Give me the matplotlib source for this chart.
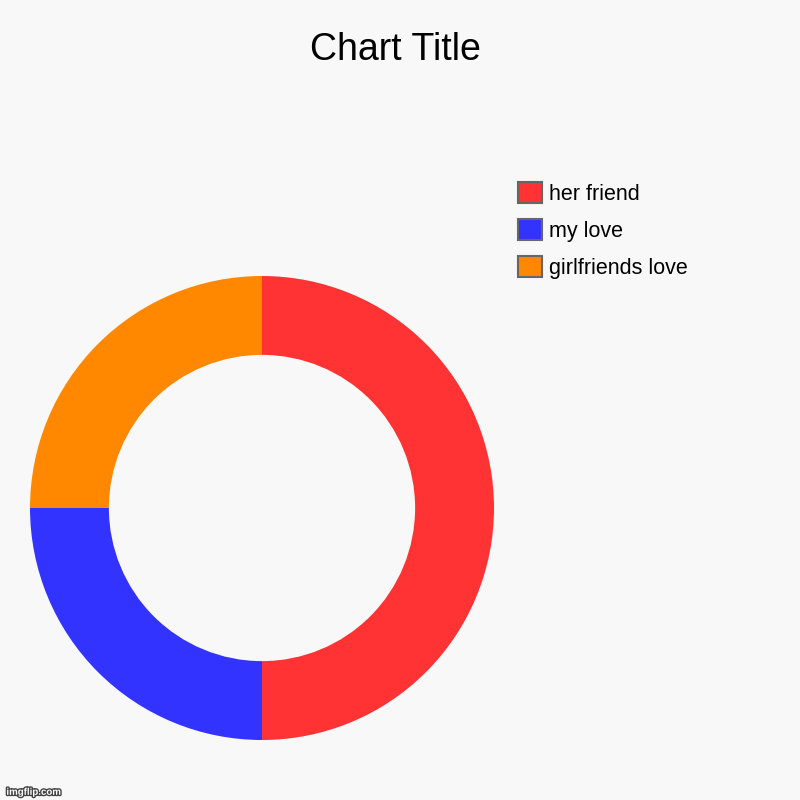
import matplotlib.pyplot as plt
import matplotlib.patheffects as pe

plt.rcParams['font.family'] = ['Liberation Sans', 'DejaVu Sans']

labels = ['her friend', 'my love', 'girlfriends love']
values = [50, 25, 25]
colors = ['#ff3333', '#3333ff', '#ff8800']

fig = plt.figure(figsize=(8, 8), dpi=100, facecolor='#f8f8f8')

# donut: outer radius 232px, centre at (262, 508)
ax = fig.add_axes([30/800, 60/800, 464/800, 464/800])
ax.set_facecolor('#f8f8f8')
wedges, _ = ax.pie(values, colors=colors, startangle=90, counterclock=False,
                   radius=1, wedgeprops=dict(width=0.34, linewidth=0))
ax.set_xlim(-1, 1)
ax.set_ylim(-1, 1)
ax.set_aspect('equal')
ax.axis('off')

fig.text(0.494, 1 - 50/800, 'Chart Title', ha='center', va='center',
         fontsize=27, color='#000000')

handles = [plt.Rectangle((0, 0), 1, 1, facecolor=c, edgecolor='#666666', linewidth=1.5)
           for c in colors]
leg = fig.legend(handles, labels, loc='upper left',
                 bbox_to_anchor=(518/800, 1 - 182/800), frameon=False,
                 fontsize=15.5, handlelength=1.1, handleheight=1.1,
                 handletextpad=0.35, labelspacing=0.67, borderpad=0, borderaxespad=0)

fig.text(0.008, 0.004, 'imgflip.com', fontsize=7, color='white', fontweight='bold',
         ha='left', va='bottom',
         path_effects=[pe.withStroke(linewidth=2, foreground='#444444')])

fig.savefig('out.png', dpi=100, facecolor=fig.get_facecolor())
